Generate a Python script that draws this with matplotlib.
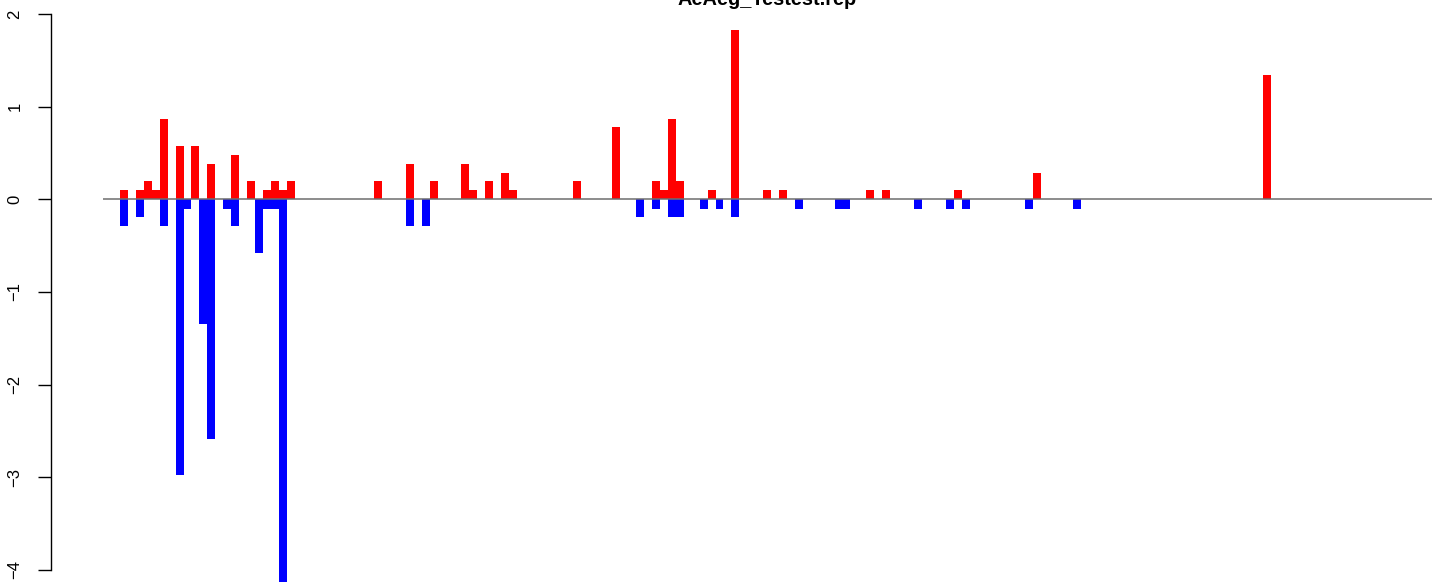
import numpy as np
import matplotlib as mpl
mpl.use("Agg")
import matplotlib.pyplot as plt

plt.rcParams['font.family'] = ['Liberation Sans', 'DejaVu Sans']

title = "AeAeg_Testest.rep"

# bar index -> value (positive series, red)
red_pos = [0, 2, 3, 4, 5, 7, 9, 11, 14, 16, 18, 19, 20, 21, 32, 36, 39, 43, 44, 46,
           48, 49, 57, 62, 67, 68, 69, 70, 74, 77, 81, 83, 94, 96, 105, 115, 144]
red_val = [0.1, 0.1, 0.2, 0.1, 0.87, 0.58, 0.58, 0.38, 0.48, 0.2, 0.1, 0.2, 0.1, 0.2,
           0.2, 0.38, 0.2, 0.38, 0.1, 0.2, 0.28, 0.1, 0.2, 0.78, 0.2, 0.1, 0.87, 0.2,
           0.1, 1.83, 0.1, 0.1, 0.1, 0.1, 0.1, 0.28, 1.34]

# negative series, blue
blue_pos = [0, 2, 5, 7, 8, 10, 11, 13, 14, 17, 18, 19, 20, 36, 38, 65, 67, 69, 70, 73,
            75, 77, 85, 90, 91, 100, 104, 106, 114, 120]
blue_val = [-0.29, -0.19, -0.29, -2.98, -0.1, -1.35, -2.59, -0.1, -0.29, -0.58, -0.1,
            -0.1, -4.3, -0.29, -0.29, -0.19, -0.1, -0.19, -0.19, -0.1, -0.1, -0.19,
            -0.1, -0.1, -0.1, -0.1, -0.1, -0.1, -0.1, -0.1]

yticks = [-4, -3, -2, -1, 0, 1, 2]

W, H = 1444, 582
fig = plt.figure(figsize=(W / 100, H / 100), dpi=100)
# plot region runs past the top and bottom of the picture (cropped R plot)
ax = fig.add_axes([103 / W, 0, (1432 - 103) / W, 1])

ax.bar(red_pos, red_val, width=1, align='edge', color='red', linewidth=0)
ax.bar(blue_pos, blue_val, width=1, align='edge', color='blue', linewidth=0)
ax.axhline(0, color='#6e6e6e', lw=1.1)

pitch = 7.94
ax.set_xlim(-(120 - 103) / pitch, (1432 - 120) / pitch)
ppu = 92.67
zero_px = 199.3
ax.set_ylim((zero_px - H) / ppu, zero_px / ppu)

for s in ['top', 'right', 'bottom']:
    ax.spines[s].set_visible(False)
# 52 px left of the plot region (points at 100 dpi)
ax.spines['left'].set_position(('outward', 52 * 0.72))
ax.spines['left'].set_bounds(-4, 2)
ax.spines['left'].set_linewidth(1.0)
ax.set_xticks([])
ax.set_yticks(yticks)
ax.tick_params(axis='y', length=9.5, width=1.0, pad=11, labelsize=12)
for lab in ax.get_yticklabels():
    lab.set_rotation(90)
    lab.set_va('center')

fig.text(767 / W, 1 - 5 / H, title, ha='center', va='baseline',
         fontsize=14.4, fontweight='bold')

fig.savefig("out.png", dpi=100)
